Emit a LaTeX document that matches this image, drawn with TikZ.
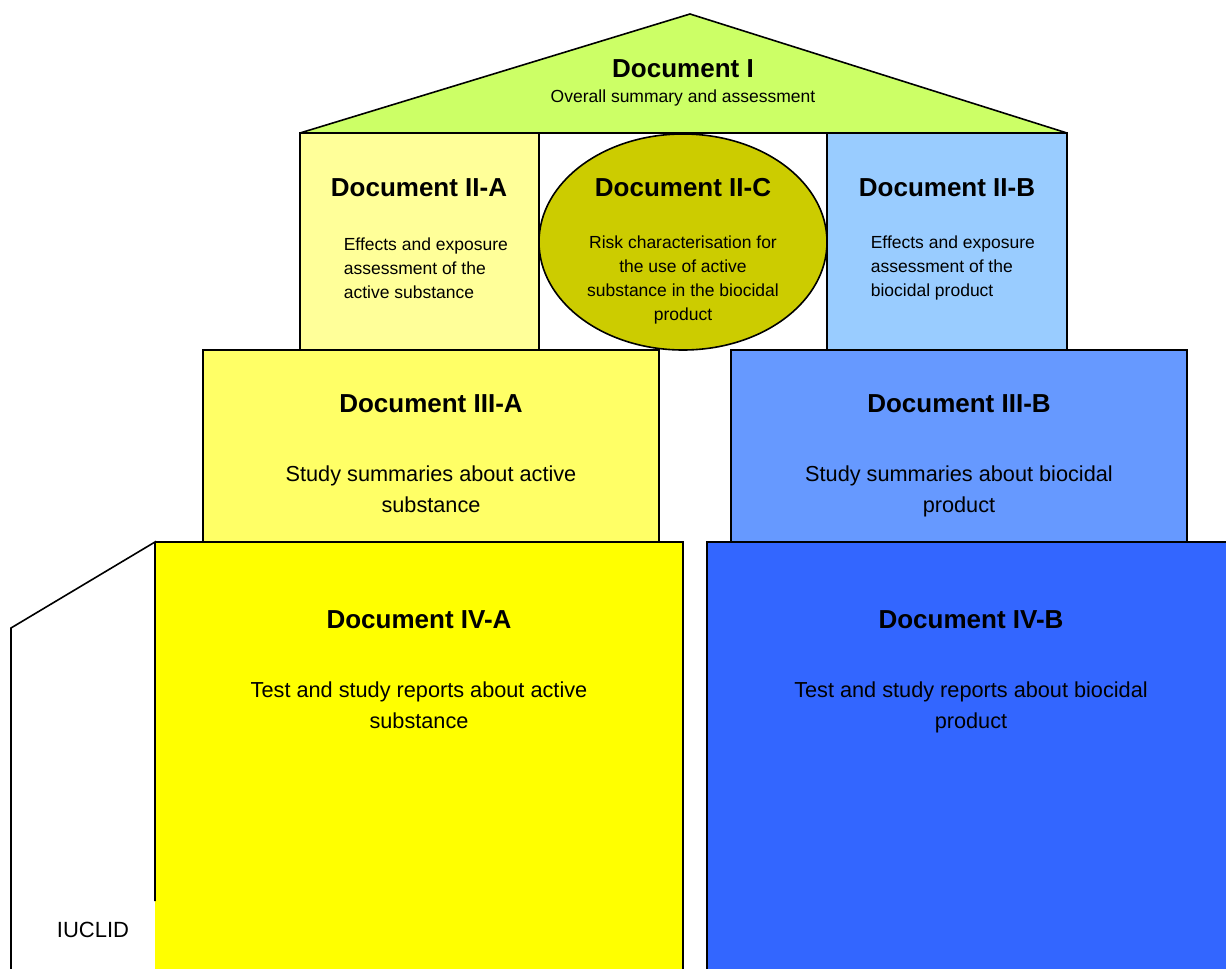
\documentclass[tikz,border=0pt]{standalone}
\usepackage{fontspec}
\setmainfont{Liberation Sans}

\definecolor{roofgreen}{HTML}{CCFF66}
\definecolor{paleyellow}{HTML}{FFFF99}
\definecolor{paleblue}{HTML}{99CCFF}
\definecolor{olive}{HTML}{CCCC00}
\definecolor{midyellow}{HTML}{FFFF66}
\definecolor{midblue}{HTML}{6699FF}
\definecolor{fullyellow}{HTML}{FFFF00}
\definecolor{fullblue}{HTML}{3366FF}

\tikzset{
	doctitle/.style={font=\fontsize{26}{30}\selectfont\bfseries, inner sep=0pt},
	docbody/.style={font=\fontsize{21.7}{31}\selectfont, align=center, inner sep=0pt},
	docsmall/.style={font=\fontsize{17.5}{24}\selectfont, inner sep=0pt},
}

\begin{document}
\begin{tikzpicture}[x=1pt, y=-1pt, line width=1.6pt]
	\useasboundingbox (0,0) rectangle (1226,969);
	\clip (0,0) rectangle (1226,969);

	% Roof: Document I
	\draw[fill=roofgreen, line join=bevel] (300,133) -- (690,14) -- (1067,133) -- cycle;
	\node[doctitle] (docI) at (683,69) {Document I};
	\node[docsmall] (docIsub) at (683,98) {Overall summary and assessment};

	% Second floor: II-A, II-C, II-B
	\draw[fill=paleyellow] (300,133) rectangle (539,350);
	\draw[fill=paleblue] (827,133) rectangle (1067,350);
	\draw[fill=olive] (683,242) ellipse [x radius=144, y radius=108];

	\node[doctitle] (docIIA) at (419,188) {Document II-A};
	\node[docsmall, align=left, anchor=west] (docIIAbody) at (343,268)
		{Effects and exposure\\assessment of the\\active substance};

	\node[doctitle] (docIIC) at (683,188) {Document II-C};
	\node[docsmall, align=center] (docIICbody) at (683,280)
		{Risk characterisation for\\the use of active\\substance in the biocidal\\product};

	\node[doctitle] (docIIB) at (947,188) {Document II-B};
	\node[docsmall, align=left, anchor=west] (docIIBbody) at (870,268)
		{Effects and exposure\\assessment of the\\biocidal product};

	% First floor: III-A, III-B
	\draw[fill=midyellow] (203,350) rectangle (659,542);
	\draw[fill=midblue] (731,350) rectangle (1187,542);

	\node[doctitle] (docIIIA) at (431,404) {Document III-A};
	\node[docbody] (docIIIAbody) at (431,489) {Study summaries about active\\substance};

	\node[doctitle] (docIIIB) at (959,404) {Document III-B};
	\node[docbody] (docIIIBbody) at (959,491) {Study summaries about biocidal\\product};

	% Ground floor: IV-A, IV-B
	\fill[fullyellow] (155,542) rectangle (683,980);
	\draw (155,542) -- (683,542) -- (683,980);
	\draw[fill=fullblue] (707,542) rectangle (1240,980);

	\node[doctitle] (docIVA) at (419,620) {Document IV-A};
	\node[docbody] (docIVAbody) at (419,705) {Test and study reports about active\\substance};

	\node[doctitle] (docIVB) at (971,620) {Document IV-B};
	\node[docbody] (docIVBbody) at (971,707) {Test and study reports about biocidal\\product};

	% IUCLID side wall
	\draw (11,980) -- (11,628) -- (155,542) -- (155,901);
	\node[font=\fontsize{22}{26}\selectfont, inner sep=0pt] (iuclid) at (93,930) {IUCLID};

\end{tikzpicture}
\end{document}
